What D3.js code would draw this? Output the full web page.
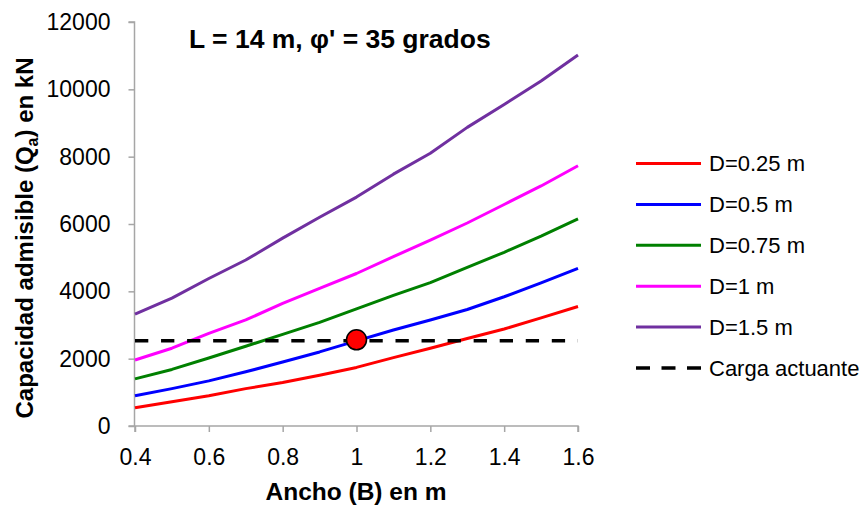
<!DOCTYPE html>
<html lang="es">
<head>
    <meta charset="UTF-8">
    <title>Capacidad admisible vs ancho</title>
    <style>
        body {
            margin: 0;
            background-color: #ffffff;
        }
        svg text {
            font-family: Arial, "Liberation Sans", sans-serif;
            fill: #000000;
        }
    </style>
</head>
<body>
    <div id="chart"></div>

    <script src="https://d3js.org/d3.v7.min.js"></script>

    <script>
        // Ancho de la zapata (B) en m
        const anchoB = [0.4, 0.5, 0.6, 0.7, 0.8, 0.9, 1.0, 1.1, 1.2, 1.3, 1.4, 1.5, 1.6];

        // Capacidad admisible (kN) para cada profundidad D
        const qD025 = [545, 720, 900, 1110, 1290, 1510, 1740, 2030, 2310, 2600, 2880, 3210, 3550];
        const qD050 = [900, 1110, 1340, 1610, 1900, 2200, 2530, 2850, 3150, 3460, 3840, 4250, 4680];
        const qD075 = [1400, 1680, 2020, 2370, 2720, 3080, 3480, 3880, 4260, 4710, 5160, 5640, 6150];
        const qD100 = [1960, 2310, 2750, 3150, 3640, 4090, 4530, 5030, 5520, 6030, 6580, 7130, 7730];
        const qD150 = [3320, 3800, 4380, 4930, 5580, 6200, 6800, 7480, 8100, 8870, 9550, 10250, 11020];

        const seriesNames = ['D=0.25 m', 'D=0.5 m', 'D=0.75 m', 'D=1 m', 'D=1.5 m'];
        const seriesColors = ['#ff0000', '#0000ff', '#008000', '#ff00ff', '#7030a0'];

        // Carga actuante y punto de diseño
        const cargaActuante = 2530;
        const puntoDiseno = [1.0, 2560];

        const xTicks = [0.4, 0.6, 0.8, 1.0, 1.2, 1.4, 1.6];
        const yTicks = [0, 2000, 4000, 6000, 8000, 10000, 12000];

        const width = 867;
        const height = 509;

        const svg = d3.select("#chart")
            .append("svg")
            .attr("width", width)
            .attr("height", height);

        const x = d3.scaleLinear().domain([0.4, 1.6]).range([135, 578]);
        const y = d3.scaleLinear().domain([0, 12000]).range([426, 22]);

        // Ejes
        const xAxis = svg.append("g")
            .attr("transform", "translate(0,426)")
            .call(d3.axisBottom(x).tickValues(xTicks).tickSize(6).tickPadding(17)
                .tickFormat(d => String(+d.toFixed(1))));

        const yAxis = svg.append("g")
            .attr("transform", "translate(134.5,0)")
            .call(d3.axisLeft(y).tickValues(yTicks).tickSize(6).tickPadding(18)
                .tickFormat(d3.format("d")));

        [xAxis, yAxis].forEach(g => {
            g.selectAll(".domain, .tick line").attr("stroke", "#a6a6a6").attr("stroke-width", 1.5);
            g.selectAll("text").attr("font-size", "23px").attr("fill", "#000");
        });
        xAxis.select(".domain").attr("d", `M135,6V0H578V6`);
        yAxis.select(".domain").attr("d", `M-6,${y(12000)}H0V${y(0)}H-6`);

        // Curvas
        const allSeries = [qD025, qD050, qD075, qD100, qD150];
        const line = d3.line()
            .x((d, i) => x(anchoB[i]))
            .y(d => y(d));

        allSeries.forEach((serie, i) => {
            svg.append("path")
                .datum(serie)
                .attr("fill", "none")
                .attr("stroke", seriesColors[i])
                .attr("stroke-width", 3)
                .attr("stroke-linejoin", "round")
                .attr("d", line);
        });

        // Línea de carga actuante
        svg.append("line")
            .attr("x1", x(0.4))
            .attr("x2", x(1.6))
            .attr("y1", y(cargaActuante))
            .attr("y2", y(cargaActuante))
            .attr("stroke", "#000")
            .attr("stroke-width", 3.5)
            .attr("stroke-dasharray", "13.3,12.75");

        // Punto de diseño
        svg.append("circle")
            .attr("cx", x(puntoDiseno[0]))
            .attr("cy", y(puntoDiseno[1]))
            .attr("r", 10)
            .attr("fill", "#ff0000")
            .attr("stroke", "#000")
            .attr("stroke-width", 1.5);

        // Título
        svg.append("text")
            .attr("x", 189)
            .attr("y", 47.5)
            .attr("font-size", "26.5px")
            .attr("font-weight", "bold")
            .text("L = 14 m, φ' = 35 grados");

        // Títulos de ejes
        svg.append("text")
            .attr("x", 356)
            .attr("y", 500)
            .attr("text-anchor", "middle")
            .attr("font-size", "24.5px")
            .attr("font-weight", "bold")
            .text("Ancho (B) en m");

        const yLabel = svg.append("text")
            .attr("transform", "translate(33,238) rotate(-90)")
            .attr("text-anchor", "middle")
            .attr("font-size", "24px")
            .attr("font-weight", "bold");
        yLabel.append("tspan").text("Capacidad admisible (Q");
        yLabel.append("tspan").attr("font-size", "16px").attr("dy", 5).text("a");
        yLabel.append("tspan").attr("dy", -5).text(") en kN");

        // Leyenda
        const legendItems = seriesNames.map((name, i) => ({ name, color: seriesColors[i], dash: null }));
        legendItems.push({ name: "Carga actuante", color: "#000", dash: "14,11.5" });

        const legend = svg.append("g");
        legendItems.forEach((item, i) => {
            const ly = 163.5 + i * 40.9;
            legend.append("line")
                .attr("x1", 636)
                .attr("x2", 701)
                .attr("y1", ly)
                .attr("y2", ly)
                .attr("stroke", item.color)
                .attr("stroke-width", item.dash ? 3.5 : 3)
                .attr("stroke-dasharray", item.dash);
            legend.append("text")
                .attr("x", 709)
                .attr("y", ly)
                .attr("dy", "0.35em")
                .attr("font-size", "22px")
                .text(item.name);
        });
    </script>
</body>
</html>
